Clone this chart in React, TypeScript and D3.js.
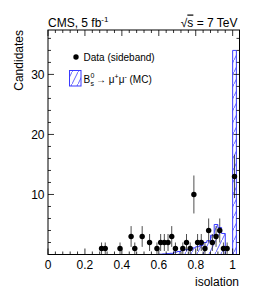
import React from "react";
import * as d3 from "d3";

// Data (sideband): bin centers and counts
const dataX = [0.29, 0.31, 0.39, 0.45, 0.47, 0.51, 0.55, 0.59, 0.61, 0.63, 0.65, 0.67, 0.69, 0.73, 0.75, 0.77, 0.79, 0.81, 0.83, 0.85, 0.87, 0.89, 0.91, 0.93, 0.95, 0.97, 1.01];
const dataY = [1, 1, 1, 3, 1, 3, 2, 1, 2, 2, 2, 3, 1, 1, 2, 1, 10, 2, 2, 1, 4, 2, 3, 4, 1, 1, 13];

// MC histogram: bin low edges (width 0.02) and contents
const mcEdges = [0.60, 0.62, 0.64, 0.66, 0.68, 0.70, 0.72, 0.74, 0.76, 0.78, 0.80, 0.82, 0.84, 0.86, 0.88, 0.90, 0.92, 0.94, 0.96, 0.98, 1.00];
const mcVals = [0.05, 0.1, 0.15, 0.2, 0.4, 0.5, 0.7, 0.8, 0.9, 1.1, 1.3, 1.5, 2.0, 2.3, 3.2, 5.0, 4.5, 3.5, 0, 0, 34];
const binW = 0.02;

const xTicks = [0, 0.2, 0.4, 0.6, 0.8, 1];
const yTicks = [10, 20, 30];

const W = 266, H = 300;
const L = 48, R = 239.5, T = 30, B = 254.5;
const FONT = "'Liberation Sans', Arial, Helvetica, sans-serif";
const BLUE = "#3a3aff";

export default function App() {
  const x = d3.scaleLinear().domain([0, 1.037]).range([L, R]);
  const y = d3.scaleLinear().domain([0, 37.4]).range([B, T]);

  // step outline of MC
  const pts: [number, number][] = [[0, 0], [mcEdges[0], 0]];
  mcEdges.forEach((e, i) => {
    pts.push([e, mcVals[i]]);
    pts.push([e + binW, mcVals[i]]);
  });
  pts.push([mcEdges[mcEdges.length - 1] + binW, 0]);
  const line = d3.line<[number, number]>().x(d => x(d[0])).y(d => y(d[1]));
  const stepPath = line(pts) || "";
  const areaPath = stepPath + "Z";

  const xMinor = d3.range(0, 1.037, 0.04);
  const yMinor = d3.range(0, 37.4, 2);

  return (
    <svg width={W} height={H} style={{ position: "absolute", left: 0, top: 0 }} fontFamily={FONT}>
      <defs>
        <pattern id="hatch" patternUnits="userSpaceOnUse" width={6} height={12}>
          <line x1={0} y1={12} x2={6} y2={0} stroke={BLUE} strokeWidth={0.8} />
        </pattern>
        <clipPath id="plotclip">
          <rect x={L} y={T} width={R - L} height={B - T} />
        </clipPath>
      </defs>
      <rect width={W} height={H} fill="white" />

      {/* MC histogram */}
      <g clipPath="url(#plotclip)">
        <path d={areaPath} fill="url(#hatch)" stroke="none" />
        <path d={stepPath} fill="none" stroke={BLUE} strokeWidth={1} />
      </g>

      {/* Data error bars and points */}
      {dataX.map((v, i) => {
        const n = dataY[i];
        const e = Math.sqrt(n);
        return (
          <g key={i}>
            <line x1={x(v)} x2={x(v)} y1={y(Math.max(0, n - e))} y2={y(n + e)} stroke="#222" strokeWidth={0.8} />
            <circle cx={x(v)} cy={y(n)} r={2.7} fill="black" />
          </g>
        );
      })}

      {/* Frame */}
      <rect x={L} y={T} width={R - L} height={B - T} fill="none" stroke="black" strokeWidth={1} />

      {/* x ticks */}
      {xMinor.map((t, i) => {
        const major = Math.abs(t / 0.2 - Math.round(t / 0.2)) < 1e-6;
        const len = major ? 6 : 3;
        return (
          <g key={"xm" + i}>
            <line x1={x(t)} x2={x(t)} y1={B} y2={B - len} stroke="black" strokeWidth={0.8} />
            <line x1={x(t)} x2={x(t)} y1={T} y2={T + len} stroke="black" strokeWidth={0.8} />
          </g>
        );
      })}
      {yMinor.map((t, i) => {
        const major = t % 10 === 0;
        const len = major ? 6 : 3;
        return (
          <g key={"ym" + i}>
            <line x1={L} x2={L + len} y1={y(t)} y2={y(t)} stroke="black" strokeWidth={0.8} />
            <line x1={R} x2={R - len} y1={y(t)} y2={y(t)} stroke="black" strokeWidth={0.8} />
          </g>
        );
      })}

      {/* tick labels */}
      {xTicks.map((t, i) => (
        <text key={"xl" + i} x={x(t)} y={268.5} fontSize={12} textAnchor="middle" fill="black">
          {t === 0 || t === 1 ? String(t) : t.toFixed(1)}
        </text>
      ))}
      {yTicks.map((t, i) => (
        <text key={"yl" + i} x={44.5} y={y(t) + 4.3} fontSize={12} textAnchor="end" fill="black">
          {t}
        </text>
      ))}

      {/* axis titles */}
      <text x={239} y={285.5} fontSize={12} textAnchor="end">isolation</text>
      <text transform={`translate(22.5,${T}) rotate(-90)`} fontSize={12} textAnchor="end">Candidates</text>

      {/* header */}
      <text x={48} y={26.5} fontSize={12}>
        CMS, 5 fb<tspan fontSize={8} dy={-5}>-1</tspan>
      </text>
      <text x={237.5} y={26.5} fontSize={12} textAnchor="end">
        √<tspan style={{ textDecoration: "overline" }}>s</tspan> = 7 TeV
      </text>

      {/* legend */}
      <circle cx={76} cy={57} r={2.7} fill="black" />
      <text x={83.5} y={60.5} fontSize={10}>Data (sideband)</text>
      <rect x={69.5} y={70.5} width={11.5} height={15.5} fill="url(#hatch)" stroke={BLUE} strokeWidth={1} />
      <text x={83.5} y={83} fontSize={10}>B</text>
      <text x={90.5} y={78} fontSize={7}>0</text>
      <text x={90.5} y={85.5} fontSize={7}>s</text>
      <text x={96} y={83} fontSize={10}>→ μ<tspan fontSize={7} dy={-4}>+</tspan><tspan dy={4}>μ</tspan><tspan fontSize={7} dy={-4}>-</tspan><tspan dy={4}> (MC)</tspan></text>
    </svg>
  );
}
